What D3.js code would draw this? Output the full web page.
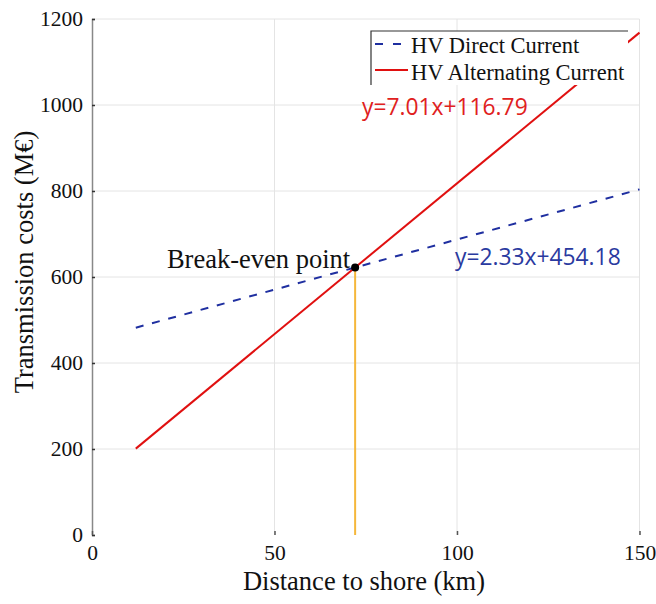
<!DOCTYPE html>
<html><head><meta charset="utf-8">
<script src="https://cdn.jsdelivr.net/npm/d3@7"></script>
<style>body{margin:0;background:#fff}</style>
</head><body>
<svg id="c" width="656" height="604"></svg>
<script>
const xTicks = [0, 50, 100, 150];
const yTicks = [0, 200, 400, 600, 800, 1000, 1200];
const distances = [12, 150];
const dcCosts = [482.1, 803.7];   // y = 2.33x + 454.18
const acCosts = [200.9, 1168.3];  // y = 7.01x + 116.79
const breakEven = {x: 72.09, y: 622.2};
const seriesNames = ["HV Direct Current", "HV Alternating Current"];
const equations = ["y=2.33x+454.18", "y=7.01x+116.79"];
const annotation = "Break-even point";

const svg = d3.select("#c");
const x = d3.scaleLinear().domain([0, 150]).range([92, 639.5]);
const y = d3.scaleLinear().domain([0, 1200]).range([535, 19]);
const serif = "'Liberation Serif','Times New Roman',serif";
const sans = "'Open Sans','Noto Sans',sans-serif";

// grid
svg.append("g").selectAll("line").data(yTicks.slice(1)).join("line")
  .attr("x1", x(0)).attr("x2", x(150)).attr("y1", d => y(d)).attr("y2", d => y(d))
  .attr("stroke", "#e4e4e4").attr("stroke-width", 1);
svg.append("g").selectAll("line").data(xTicks.slice(1)).join("line")
  .attr("x1", d => x(d)).attr("x2", d => x(d)).attr("y1", y(0)).attr("y2", y(1200))
  .attr("stroke", "#e4e4e4").attr("stroke-width", 1);

// y axis (ticks slightly inward)
const ya = svg.append("g").attr("transform", `translate(${x(0)},0)`)
  .call(d3.axisLeft(y).tickValues(yTicks).tickSize(-3).tickPadding(9).tickFormat(d3.format("d")));
ya.select(".domain").attr("stroke", "#888").attr("stroke-width", 1.5);
ya.selectAll(".tick line").attr("stroke", "#333").attr("stroke-width", 1.5);
ya.selectAll("text").attr("font-family", serif).attr("font-size", 21.5).attr("fill", "#111");

// x axis (ticks inward, no domain line)
const xa = svg.append("g").attr("transform", `translate(0,${y(0)})`)
  .call(d3.axisBottom(x).tickValues(xTicks).tickSize(-4).tickPadding(10).tickFormat(d3.format("d")));
xa.select(".domain").remove();
xa.selectAll(".tick line").attr("stroke", "#555").attr("stroke-width", 1.5);
xa.selectAll("text").attr("font-family", serif).attr("font-size", 21.5).attr("fill", "#111");

// axis titles
svg.append("text").attr("x", 364).attr("y", 590).attr("text-anchor", "middle")
  .attr("font-family", serif).attr("font-size", 26.5).attr("fill", "#111").text("Distance to shore (km)");
svg.append("text").attr("transform", "translate(33,262) rotate(-90)").attr("text-anchor", "middle")
  .attr("font-family", serif).attr("font-size", 26.5).attr("fill", "#111").text("Transmission costs (M€)");

// lines
const pts = (ys) => distances.map((d, i) => [x(d), y(ys[i])]);
const line = d3.line();
svg.append("path").attr("d", line(pts(dcCosts))).attr("fill", "none")
  .attr("stroke", "#1f2fa0").attr("stroke-width", 2).attr("stroke-dasharray", "8,8.8");
svg.append("path").attr("d", line(pts(acCosts))).attr("fill", "none")
  .attr("stroke", "#e01010").attr("stroke-width", 2);

// break-even vertical
svg.append("line").attr("x1", x(breakEven.x)).attr("x2", x(breakEven.x))
  .attr("y1", y(breakEven.y)).attr("y2", y(0)).attr("stroke", "#f5b73b").attr("stroke-width", 2);
svg.append("circle").attr("cx", x(breakEven.x)).attr("cy", y(breakEven.y)).attr("r", 4).attr("fill", "#000");
svg.append("text").attr("x", x(breakEven.x) - 5).attr("y", 268).attr("text-anchor", "end")
  .attr("font-family", serif).attr("font-size", 26.5).attr("fill", "#111").text(annotation);

// equations
svg.append("text").attr("x", 362).attr("y", 115).attr("font-family", sans).attr("font-size", 22.8)
  .attr("fill", "#e02020").text(equations[1]);
svg.append("text").attr("x", 455).attr("y", 265).attr("font-family", sans).attr("font-size", 22.8)
  .attr("fill", "#2a3aa0").text(equations[0]);

// legend
const lg = svg.append("g");
lg.append("rect").attr("x", 371).attr("y", 31).attr("width", 257).attr("height", 54).attr("fill", "#fff");
lg.append("path").attr("d", "M371,85V31H628").attr("fill", "none").attr("stroke", "#333").attr("stroke-width", 1.2);
const styles = [{c: "#1f2fa0", dash: "8,10"}, {c: "#e01010", dash: null}];
const legendRows = [{line: 44, text: 53}, {line: 70, text: 80}];
seriesNames.forEach((n, i) => {
  lg.append("line").attr("x1", 375).attr("x2", 408).attr("y1", legendRows[i].line).attr("y2", legendRows[i].line)
    .attr("stroke", styles[i].c).attr("stroke-width", 2).attr("stroke-dasharray", styles[i].dash);
  lg.append("text").attr("x", 411).attr("y", legendRows[i].text).attr("font-family", serif).attr("font-size", 22.5)
    .attr("fill", "#111").text(n);
});
</script>
</body></html>
